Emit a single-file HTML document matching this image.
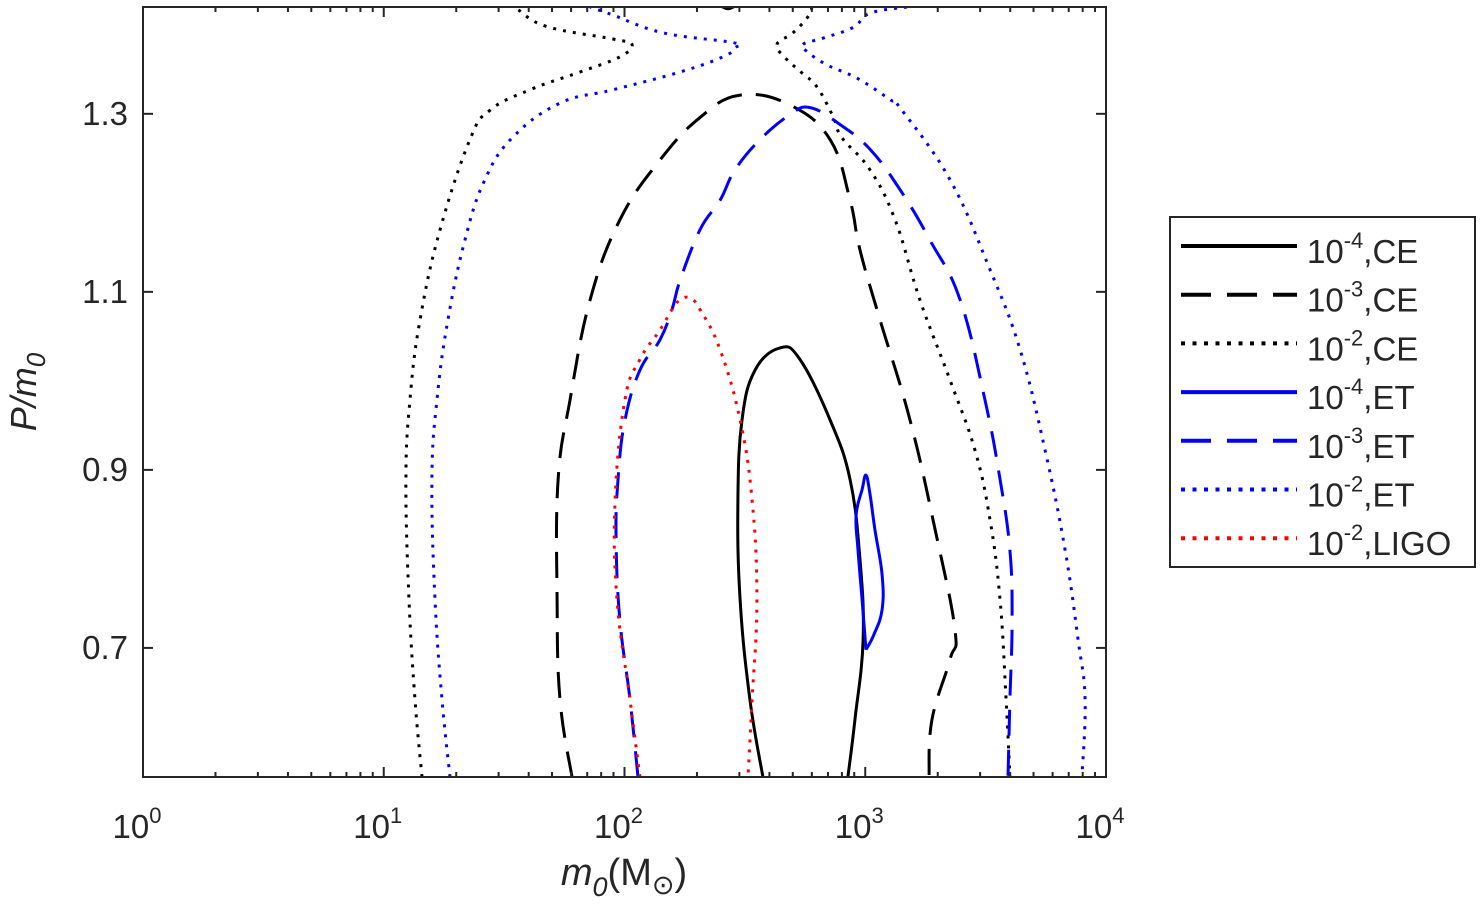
<!DOCTYPE html>
<html><head><meta charset="utf-8">
<style>
body{margin:0;background:#fff;font-family:"Liberation Sans",sans-serif;}
svg{display:block}
text{font-family:"Liberation Sans",sans-serif;fill:#262626}
</style></head>
<body>
<svg id="chart" width="1482" height="907" viewBox="0 0 1482 907" xmlns="http://www.w3.org/2000/svg">
<defs><clipPath id="pc"><rect x="143" y="7" width="963" height="770"/></clipPath></defs>
<g id="series" clip-path="url(#pc)"></g>
<rect x="143" y="7" width="963" height="770" fill="none" stroke="#262626" stroke-width="2"/>
<g id="ticks"></g>
<text x="624" y="885" font-size="38" text-anchor="middle"><tspan font-style="italic">m</tspan><tspan font-style="italic" font-size="27" dy="11">0</tspan><tspan dy="-11">(M</tspan><tspan font-size="27" dy="9">⊙</tspan><tspan dy="-9">)</tspan></text>
<text transform="translate(36,392) rotate(-90)" font-size="36" text-anchor="middle" font-style="italic">P/m<tspan font-size="26" dy="9">0</tspan></text>
<g>
<rect x="1170" y="217" width="305" height="350" fill="#fff" stroke="#262626" stroke-width="2"/>
<g id="legend"></g>
</g>
</svg>
<script>
const xMinLog = 0, xMaxLog = 4, yMin = 0.555, yMax = 1.42;
const xTickLogs = [0,1,2,3,4];
const yTicks = [0.7,0.9,1.1,1.3];
const yTickLabels = ["0.7","0.9","1.1","1.3"];
// series: log10(m0) and P/m0
const ce4_logm = [2.575,2.521,2.48,2.471,2.488,2.542,2.646,2.729,2.854,2.937,2.978,2.991,2.957,2.928];
const ce4_p    = [0.555,0.642,0.754,0.866,0.956,1.012,1.037,1.024,0.956,0.889,0.799,0.709,0.619,0.555];
const ce3_logm = [1.782,1.732,1.720,1.724,1.774,1.857,1.981,2.147,2.314,2.480,2.687,2.854,2.937,2.978,3.061,3.186,3.290,3.373,3.352,3.277,3.265];
const ce3_p    = [0.555,0.642,0.754,0.889,0.979,1.091,1.181,1.248,1.296,1.321,1.310,1.271,1.203,1.147,1.069,0.956,0.833,0.72,0.687,0.619,0.555];
const ce2a_logm = [1.159,1.130,1.105,1.092,1.109,1.151,1.234,1.358,1.441,1.607,1.815,1.981,2.031,1.952,1.678,1.558,1.545];
const ce2a_p    = [0.555,0.642,0.754,0.889,0.979,1.069,1.170,1.271,1.304,1.327,1.347,1.364,1.378,1.384,1.398,1.417,1.420];
const ce2b_logm = [2.779,2.762,2.700,2.633,2.667,2.737,2.800,2.866,2.904,3.020,3.124,3.227,3.352,3.456,3.518,3.560,3.585,3.601];
const ce2b_p    = [1.42,1.409,1.391,1.378,1.363,1.346,1.330,1.297,1.273,1.237,1.181,1.091,1.001,0.922,0.844,0.754,0.642,0.555];
const et4_logm = [3.003,2.987,2.970,2.962,2.987,3.003,3.020,3.040,3.070,3.070,3.036,3.003];
const et4_p    = [0.698,0.754,0.810,0.849,0.878,0.894,0.872,0.833,0.782,0.743,0.715,0.698];
const et3_logm = [2.056,2.023,1.981,1.965,1.973,2.002,2.064,2.147,2.197,2.231,2.314,2.397,2.459,2.563,2.687,2.771,2.895,3.020,3.144,3.269,3.394,3.497,3.560,3.601,3.610,3.601,3.593];
const et3_p    = [0.555,0.642,0.731,0.821,0.889,0.956,1.012,1.046,1.080,1.113,1.170,1.203,1.237,1.271,1.299,1.307,1.288,1.260,1.215,1.158,1.091,0.979,0.889,0.810,0.731,0.642,0.555];
const et2a_logm = [1.275,1.242,1.213,1.200,1.221,1.267,1.337,1.420,1.537,1.732,1.952,2.231,2.409,2.459,2.451,2.160,1.952,1.857];
const et2a_p    = [0.555,0.642,0.754,0.889,0.979,1.069,1.158,1.226,1.274,1.312,1.327,1.347,1.364,1.374,1.380,1.391,1.411,1.42];
const et2b_logm = [3.173,3.020,2.949,2.824,2.741,2.758,2.841,2.966,3.103,3.144,3.352,3.518,3.643,3.747,3.830,3.884,3.913,3.900];
const et2b_p    = [1.42,1.413,1.397,1.385,1.378,1.370,1.355,1.340,1.316,1.307,1.226,1.125,1.035,0.922,0.810,0.709,0.642,0.555];
const ligo_logm = [2.064,2.023,1.969,1.961,2.002,2.064,2.147,2.197,2.231,2.272,2.314,2.397,2.480,2.530,2.550,2.530,2.513];
const ligo_p    = [0.555,0.642,0.754,0.866,0.979,1.024,1.057,1.080,1.091,1.093,1.080,1.035,0.956,0.866,0.754,0.642,0.555];
const ce4top_logm = [2.40,2.43,2.46];
const ce4top_p    = [1.421,1.418,1.421];

const X0=143,X1=1106,Y0=777,Y1=7;
const sx = l => X0 + (l - xMinLog)/(xMaxLog - xMinLog)*(X1-X0);
const sy = p => Y0 - (p - yMin)/(yMax - yMin)*(Y0-Y1);
const NS="http://www.w3.org/2000/svg";
const styles = { solid:"", dash:"26 14", dot:"3 7" };
function smoothPath(pts){
  let d="M"+pts[0][0].toFixed(1)+" "+pts[0][1].toFixed(1);
  for(let i=0;i<pts.length-1;i++){
    const p0=pts[Math.max(i-1,0)],p1=pts[i],p2=pts[i+1],p3=pts[Math.min(i+2,pts.length-1)];
    const t=0.2;
    const c1=[p1[0]+(p2[0]-p0[0])*t,p1[1]+(p2[1]-p0[1])*t];
    const c2=[p2[0]-(p3[0]-p1[0])*t,p2[1]-(p3[1]-p1[1])*t];
    d+="C"+c1[0].toFixed(1)+" "+c1[1].toFixed(1)+" "+c2[0].toFixed(1)+" "+c2[1].toFixed(1)+" "+p2[0].toFixed(1)+" "+p2[1].toFixed(1);
  }
  return d;
}
function line(g, xs, ys, color, dash, name){
  const p=document.createElementNS(NS,"path");
  p.setAttribute("d", smoothPath(xs.map((v,i)=>[sx(v),sy(ys[i])])));
  p.setAttribute("fill","none");p.setAttribute("stroke",color);p.setAttribute("stroke-width","3");
  p.setAttribute("stroke-linejoin","round");
  if(dash)p.setAttribute("stroke-dasharray",dash);
  
  
  g.appendChild(p);
}
const sg=document.getElementById("series");
line(sg,ce4_logm,ce4_p,"#000",styles.solid,"ce-1e-4-contour");
line(sg,ce4top_logm,ce4top_p,"#000",styles.solid,"ce-1e-4-contour-top");
line(sg,ce3_logm,ce3_p,"#000",styles.dash,"ce-1e-3-contour");
line(sg,ce2a_logm,ce2a_p,"#000",styles.dot,"ce-1e-2-contour-left");
line(sg,ce2b_logm,ce2b_p,"#000",styles.dot,"ce-1e-2-contour-right");
line(sg,et4_logm,et4_p,"#0000ff",styles.solid,"et-1e-4-contour");
line(sg,et3_logm,et3_p,"#0000ff",styles.dash,"et-1e-3-contour");
line(sg,et2a_logm,et2a_p,"#0000ff",styles.dot,"et-1e-2-contour-left");
line(sg,et2b_logm,et2b_p,"#0000ff",styles.dot,"et-1e-2-contour-right");
line(sg,ligo_logm,ligo_p,"#ff0000",styles.dot,"ligo-1e-2-contour");

const tg=document.getElementById("ticks");
function tick(x1,y1,x2,y2,name){
  const l=document.createElementNS(NS,"line");
  l.setAttribute("x1",x1);l.setAttribute("y1",y1);l.setAttribute("x2",x2);l.setAttribute("y2",y2);
  l.setAttribute("stroke","#262626");l.setAttribute("stroke-width","2");
  
  
  tg.appendChild(l);
}
for(let d=xMinLog; d<xMaxLog; d++){
  for(let k=2;k<=9;k++){
    const x=sx(d+Math.log10(k));
    tick(x,Y0,x,Y0-5,"x-minor-tick");tick(x,Y1,x,Y1+5,"x-minor-tick");
  }
}
xTickLogs.forEach(l=>{
  const x=sx(l);
  tick(x,Y0,x,Y0-10,"x-major-tick");tick(x,Y1,x,Y1+10,"x-major-tick");
  const t=document.createElementNS(NS,"text");
  t.setAttribute("x",x-6);t.setAttribute("y",838);t.setAttribute("font-size","33");t.setAttribute("text-anchor","middle");
  t.innerHTML='10<tspan font-size="22" dy="-15">'+l+'</tspan>';
  
  
  tg.appendChild(t);
});
yTicks.forEach((v,i)=>{
  const y=sy(v);
  tick(X0,y,X0+10,y,"y-major-tick");tick(X1,y,X1-10,y,"y-major-tick");
  const t=document.createElementNS(NS,"text");
  t.setAttribute("x",128);t.setAttribute("y",y+11);t.setAttribute("font-size","33");t.setAttribute("text-anchor","end");
  t.textContent=yTickLabels[i];
  
  
  tg.appendChild(t);
});

const legExp=["-4","-3","-2","-4","-3","-2","-2"];
const legDet=["CE","CE","CE","ET","ET","ET","LIGO"];
const legColor=["#000","#000","#000","#0000ff","#0000ff","#0000ff","#ff0000"];
const legDash=[styles.solid,styles.dash,styles.dot,styles.solid,styles.dash,styles.dot,styles.dot];
const lg=document.getElementById("legend");
legDet.forEach((d,i)=>{
  const y=246+i*48.7;
  const l=document.createElementNS(NS,"line");
  l.setAttribute("x1",1181);l.setAttribute("x2",1297);l.setAttribute("y1",y);l.setAttribute("y2",y);
  l.setAttribute("stroke",legColor[i]);l.setAttribute("stroke-width","4");
  if(legDash[i])l.setAttribute("stroke-dasharray",legDash[i]==styles.dot?"4 7.5":"30 16");
  
  
  lg.appendChild(l);
  const t=document.createElementNS(NS,"text");
  t.setAttribute("x",1307);t.setAttribute("y",y+17);t.setAttribute("font-size","33");
  t.innerHTML='10<tspan font-size="22" dy="-15">'+legExp[i]+'</tspan><tspan dy="15">,'+d+'</tspan>';
  
  
  lg.appendChild(t);
});
</script>
</body></html>
